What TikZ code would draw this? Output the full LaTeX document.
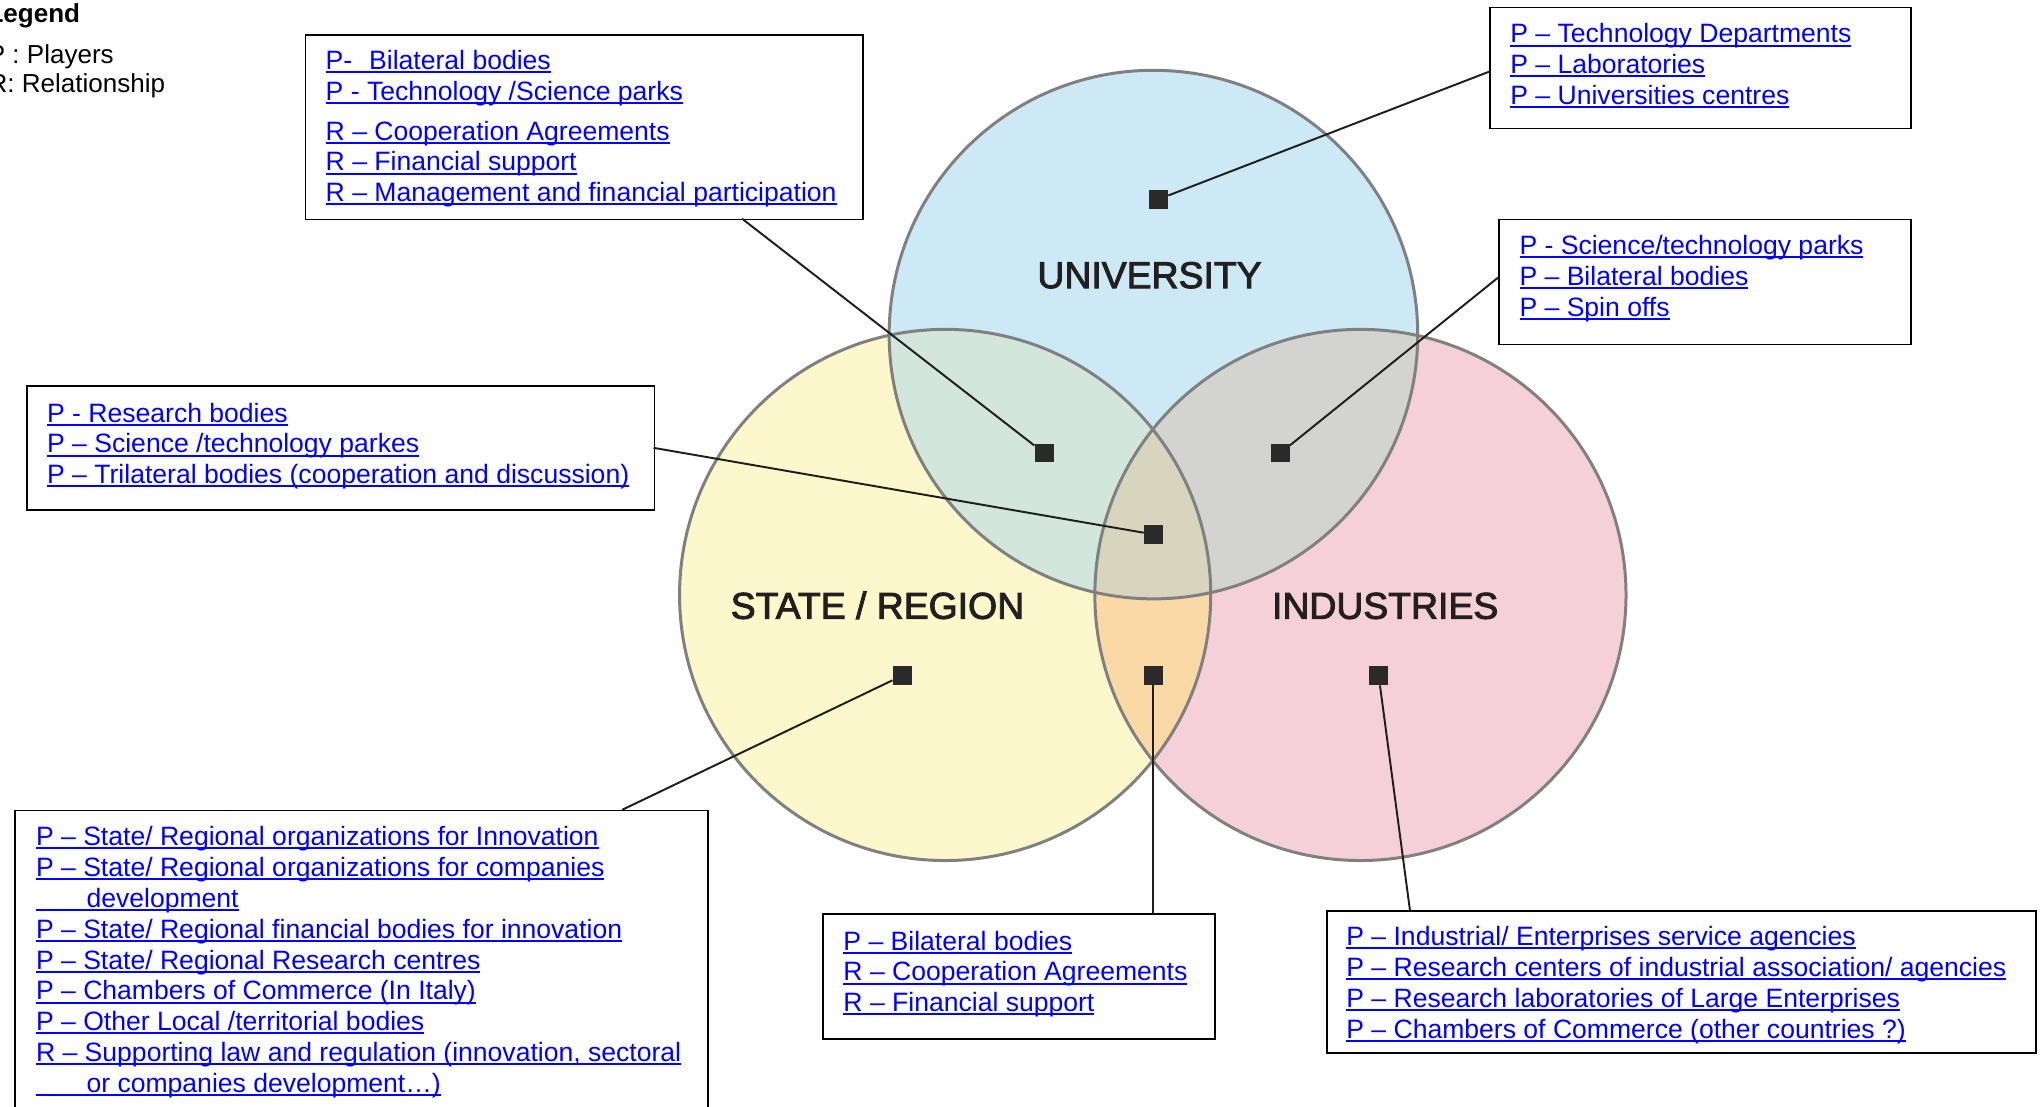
\documentclass[tikz,border=0pt]{standalone}
\usepackage{fontspec}
\setmainfont{Liberation Sans}
\newfontfamily\labfont[FakeBold=2.5]{Liberation Sans}
\definecolor{colU}{RGB}{205,233,245}
\definecolor{colS}{RGB}{253,248,204}
\definecolor{colI}{RGB}{246,208,216}
\definecolor{colUS}{RGB}{210,230,220}
\definecolor{colUI}{RGB}{211,211,209}
\definecolor{colSI}{RGB}{250,217,166}
\definecolor{colUSI}{RGB}{216,213,191}
\definecolor{ringcol}{RGB}{128,128,128}
\definecolor{labcol}{RGB}{35,31,32}
\definecolor{sqcol}{RGB}{42,42,42}
\definecolor{conncol}{RGB}{30,30,30}
\definecolor{linkblue}{RGB}{0,0,255}
\newsavebox\ulbox
\newcommand\ulink[1]{\sbox\ulbox{#1}\strut\rlap{\rule[-2.8pt]{\wd\ulbox}{1.5pt}}\usebox\ulbox}
\begin{document}
\begin{tikzpicture}[x=1pt,y=-1pt,
  box/.style={draw=black, line width=1.3pt, rectangle, inner sep=0pt, anchor=north west},
  txt/.style={anchor=north west, inner sep=0pt, align=left, text=linkblue, font=\fontsize{20.4}{23.7}\selectfont},
  sq/.style={fill=sqcol, minimum size=14.5pt, inner sep=0pt, rectangle},
  conn/.style={line width=1.5pt, draw=conncol},
  ring/.style={draw=ringcol, line width=2.3pt},
  lab/.style={font=\labfont\fontsize{28.7}{30}\selectfont, text=labcol, anchor=base, inner sep=0pt},
  leg/.style={font=\fontsize{20}{24}\selectfont, text=black, anchor=base west, inner sep=0pt},
]
\useasboundingbox (0,0) rectangle (1567,850.3);

% circles
\coordinate (cU) at (886,257);
\coordinate (cS) at (726,457);
\coordinate (cI) at (1045,457);
\fill[colS] (cS) circle[radius=204pt];
\fill[colI] (cI) circle[radius=204pt];
\begin{scope}
  \clip (cS) circle[radius=204pt];
  \fill[colSI] (cI) circle[radius=204pt];
\end{scope}
\fill[colU] (cU) circle[radius=203pt];
\begin{scope}
  \clip (cU) circle[radius=203pt];
  \fill[colUS] (cS) circle[radius=204pt];
  \fill[colUI] (cI) circle[radius=204pt];
  \clip (cS) circle[radius=204pt];
  \fill[colUSI] (cI) circle[radius=204pt];
\end{scope}
\draw[ring] (cS) circle[radius=204pt];
\draw[ring] (cI) circle[radius=204pt];
\draw[ring] (cU) circle[radius=203pt];

% labels
\node[lab] (labU) at (883,221.3) {UNIVERSITY};
\node[lab] (labS) at (674,475.3) {STATE / REGION};
\node[lab] (labI) at (1064,475.3) {INDUSTRIES};

% squares
\node[sq] (sqU) at (890,153) {};
\node[sq] (sqUS) at (802,348) {};
\node[sq] (sqUI) at (983.5,348) {};
\node[sq] (sqC) at (886,410.5) {};
\node[sq] (sqS) at (693,519) {};
\node[sq] (sqSI) at (886,519) {};
\node[sq] (sqI) at (1059,519) {};

% legend (cut at the left edge, as in the original)
\node[leg] (legT) at (-9.8,17.4) {\bfseries Legend};
\node[leg] (legP) at (-9.5,48.6) {P : Players};
\node[leg] (legR) at (-9.0,70.9) {R: Relationship};

% boxes
\node[box, minimum width=428pt, minimum height=142pt] (tlbox) at (234,26) {};
\node[box, minimum width=323pt, minimum height=93pt] (trbox) at (1144,5) {};
\node[box, minimum width=316pt, minimum height=96pt] (rbox) at (1151,168) {};
\node[box, minimum width=482pt, minimum height=95pt] (lbox) at (20,296) {};
\node[box, minimum width=532pt, minimum height=260pt] (blbox) at (11,622) {};
\node[box, minimum width=301pt, minimum height=96pt] (bmbox) at (631.5,701.5) {};
\node[box, minimum width=545pt, minimum height=109pt] (brbox) at (1018.5,699) {};

% box texts
\node[txt] (tltxt) at (250,36.4) {\ulink{P-\hspace{13pt}Bilateral bodies}\\
\ulink{P - Technology /Science parks}\\[7pt]
\ulink{R – Cooperation Agreements}\\
\ulink{R – Financial support}\\
\ulink{R – Management and financial participation}};

\node[txt] (trtxt) at (1160,16.2) {\ulink{P – Technology Departments}\\
\ulink{P – Laboratories}\\
\ulink{P – Universities centres}};

\node[txt] (rtxt) at (1167,178.9) {\ulink{P - Science/technology parks}\\
\ulink{P – Bilateral bodies}\\
\ulink{P – Spin offs}};

\node[txt] (ltxt) at (36,307.4) {\ulink{P - Research bodies}\\
\ulink{P – Science /technology parkes}\\
\ulink{P – Trilateral bodies (cooperation and discussion)}};

\node[txt] (bltxt) at (27.5,632.8) {\ulink{P – State/ Regional organizations for Innovation}\\
\ulink{P – State/ Regional organizations for companies}\\
\ulink{\hspace*{38.8pt}development}\\
\ulink{P – State/ Regional financial bodies for innovation}\\
\ulink{P – State/ Regional Research centres}\\
\ulink{P – Chambers of Commerce (In Italy)}\\
\ulink{P – Other Local /territorial bodies}\\
\ulink{R – Supporting law and regulation (innovation, sectoral}\\
\ulink{\hspace*{38.8pt}or companies development…)}};

\node[txt] (bmtxt) at (647.7,713) {\ulink{P – Bilateral bodies}\\
\ulink{R – Cooperation Agreements}\\
\ulink{R – Financial support}};

\node[txt] (brtxt) at (1034,709.6) {\ulink{P – Industrial/ Enterprises service agencies}\\
\ulink{P – Research centers of industrial association/ agencies}\\
\ulink{P – Research laboratories of Large Enterprises}\\
\ulink{P – Chambers of Commerce (other countries ?)}};

% connector attachment points on the boxes
\coordinate (c1) at (570,168);
\coordinate (c2) at (1144,55);
\coordinate (c3) at (1151,213);
\coordinate (c4) at (502,344);
\coordinate (c5) at (478,622);
\coordinate (c6) at (886,701.5);
\coordinate (c7) at (1083,699);

\draw[conn] (c1) -- (sqUS);
\draw[conn] (c2) -- (sqU);
\draw[conn] (c3) -- (sqUI);
\draw[conn] (c4) -- (sqC);
\draw[conn] (c5) -- (sqS);
\draw[conn] (c6) -- (sqSI);
\draw[conn] (c7) -- (sqI);
\end{tikzpicture}
\end{document}
